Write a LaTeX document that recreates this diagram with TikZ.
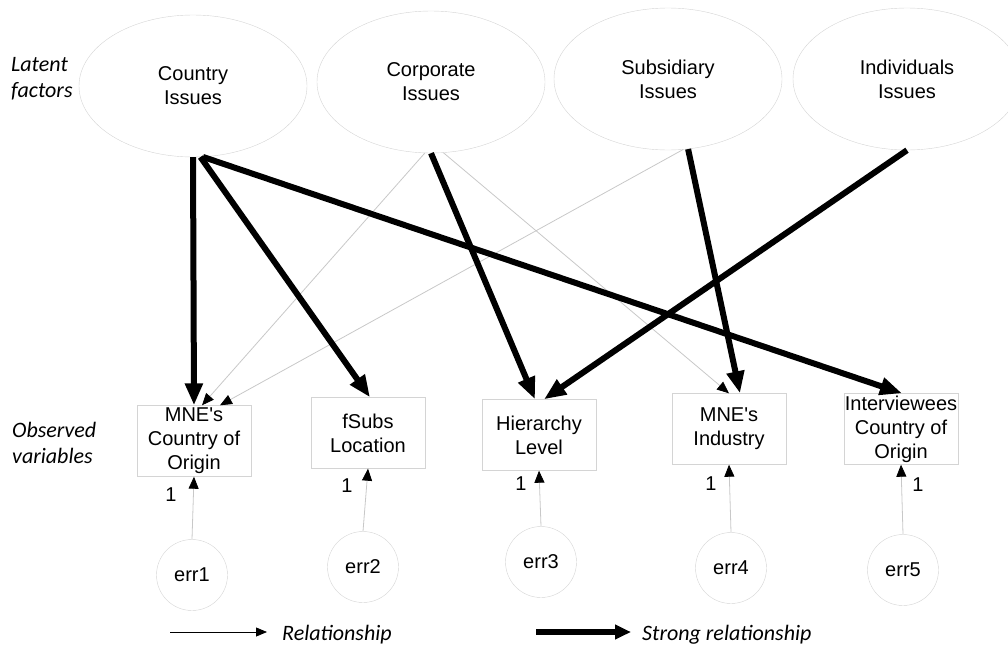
\documentclass[tikz,border=0pt]{standalone}
\usepackage{fontspec}
\setmainfont{Liberation Sans}
\newfontfamily\labelfont{Carlito}
\usetikzlibrary{arrows.meta,positioning,shapes.geometric,calc}
\definecolor{rim}{RGB}{212,212,212}
\definecolor{faint}{RGB}{200,200,200}
\definecolor{ink}{RGB}{0,0,0}

\begin{document}
\begin{tikzpicture}[x=1pt,y=-1pt,
    factor/.style={ellipse,draw=rim,minimum width=228pt,minimum height=142pt,inner sep=0pt,align=center,font=\fontsize{20}{24}\selectfont},
    observed/.style={rectangle,draw=rim,minimum width=114pt,minimum height=71pt,inner sep=0pt,align=center,font=\fontsize{20}{24}\selectfont},
    error/.style={circle,draw=rim,minimum size=71pt,inner sep=0pt,font=\fontsize{20}{24}\selectfont},
    weak/.style={faint,line width=0.8pt,-{Triangle[length=12pt,width=10pt,color=ink]}},
    strong/.style={ink,line width=6pt,-{Triangle[length=22pt,width=17pt]}},
    side/.style={align=left,anchor=west,inner sep=0pt,font=\labelfont\itshape\fontsize{22}{26}\selectfont},
    one/.style={inner sep=0pt,font=\fontsize{20}{22}\selectfont}]
  \useasboundingbox (0,0) rectangle (1008,645);

  % latent factors
  \node[factor] (country) at (193,86) {Country\\Issues};
  \node[factor] (corporate) at (431,82) {Corporate\\Issues};
  \node[factor] (subsidiary) at (668,79) {Subsidiary\\Issues};
  \node[factor] (individuals) at (907,79) {Individuals\\Issues};

  % observed variables
  \node[observed] (origin) at (194,441) {MNE\textquotesingle s\\Country of\\Origin};
  \node[observed] (location) at (368,433) {fSubs\\Location};
  \node[observed] (hierarchy) at (539,435) {Hierarchy\\Level};
  \node[observed] (industry) at (729,429) {MNE\textquotesingle s\\Industry};
  \node[observed] (interviewees) at (901,429) {Interviewees\\Country of\\Origin};

  % error terms
  \node[error] (err1) at (192,575) {err1};
  \node[error] (err2) at (363,567) {err2};
  \node[error] (err3) at (541,562) {err3};
  \node[error] (err4) at (731,568) {err4};
  \node[error] (err5) at (903,570) {err5};

  \node[one] (one1) at (171,495) {1};
  \node[one] (one2) at (347,486) {1};
  \node[one] (one3) at (521,484) {1};
  \node[one] (one4) at (711,484) {1};
  \node[one] (one5) at (918,485) {1};

  % side labels
  \node[side] (latent) at (11,79) {Latent\\factors};
  \node[side] (variables) at (12,443) {Observed\\variables};

  % weak paths
  \draw[weak] (corporate.-95) -- ($(origin.north)+(8,0)$);
  \draw[weak] (subsidiary.-78) -- ($(origin.north)+(26,0)$);
  \draw[weak] (corporate.-80) -- (industry.north);
  \draw[weak] (err1.north) -- (origin.south);
  \draw[weak] (err2.north) -- (location.south);
  \draw[weak] (err3.north) -- (hierarchy.south);
  \draw[weak] (err4.north) -- (industry.south);
  \draw[weak] (err5.north) -- (interviewees.south);

  % strong paths
  \draw[strong] (country.south) -- (origin.north);
  \draw[strong] (country.-84) -- ($(location.north)+(2,0)$);
  \draw[strong] (country.-82) -- ($(interviewees.north)+(1,0)$);
  \draw[strong] (corporate.south) -- ($(hierarchy.north)+(-4,0)$);
  \draw[strong] (subsidiary.-74) -- ($(industry.north)+(11,0)$);
  \draw[strong] (individuals.south) -- ($(hierarchy.north)+(5,0)$);

  % legend
  \coordinate (weak start) at (170,632);
  \coordinate (weak end) at (267,632);
  \coordinate (strong start) at (536,632);
  \coordinate (strong end) at (631,632);
  \draw[ink,line width=0.8pt,-{Triangle[length=11pt,width=9pt]}] (weak start) -- (weak end);
  \draw[ink,line width=6pt,-{Triangle[length=16pt,width=14pt]}] (strong start) -- (strong end);
  \node[side] (relationship) at (282,635) {Relationship};
  \node[side] (strongrel) at (642,635) {Strong relationship};
\end{tikzpicture}
\end{document}
